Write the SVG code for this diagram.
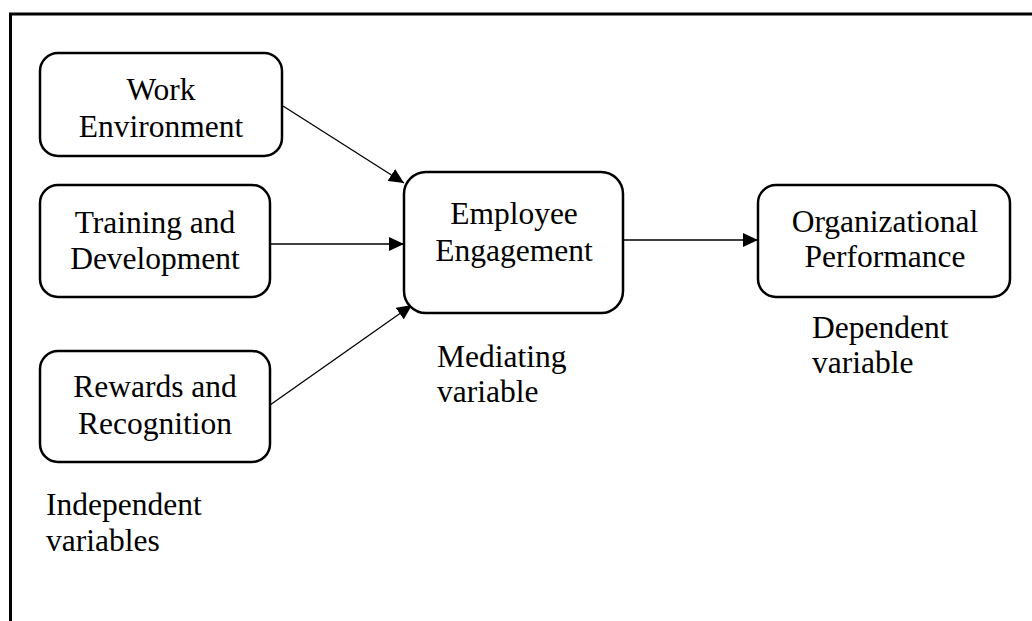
<svg xmlns="http://www.w3.org/2000/svg" width="1032" height="621" viewBox="0 0 1032 621">
<style>
.box{fill:#fff;stroke:#000;stroke-width:2.5}
.t{font-family:"Liberation Serif","Times New Roman",serif;font-size:31.5px;fill:#000}
.c{text-anchor:middle}
.edge{stroke:#000;stroke-width:1.3;fill:none;marker-end:url(#arr)}
</style>
<defs>
<marker id="arr" markerUnits="userSpaceOnUse" markerWidth="16" markerHeight="14" refX="15" refY="7" orient="auto">
<path d="M0,0 L15,7 L0,14 Z" fill="#000"/>
</marker>
</defs>
<rect x="0" y="0" width="1032" height="621" fill="#fff"/>
<path d="M10.5,621 L10.5,14 L1032,14" fill="none" stroke="#000" stroke-width="3"/>
<g id="connectors">
<line class="edge" x1="283" y1="106" x2="404" y2="183"/>
<line class="edge" x1="270" y1="244" x2="404" y2="244"/>
<line class="edge" x1="270" y1="405" x2="412" y2="305"/>
<line class="edge" x1="623" y1="240" x2="758" y2="240"/>
</g>
<g id="work-environment">
<rect class="box" x="40" y="53" width="242" height="103" rx="18"/>
<text class="t c" x="161" y="100">Work</text>
<text class="t c" x="161" y="137">Environment</text>
</g>
<g id="training-development">
<rect class="box" x="40" y="185" width="230" height="112" rx="18"/>
<text class="t c" x="155" y="233">Training and</text>
<text class="t c" x="155" y="269">Development</text>
</g>
<g id="rewards-recognition">
<rect class="box" x="40" y="351" width="230" height="111" rx="18"/>
<text class="t c" x="155" y="397">Rewards and</text>
<text class="t c" x="155" y="434">Recognition</text>
</g>
<g id="employee-engagement">
<rect class="box" x="404" y="172" width="219" height="141" rx="22"/>
<text class="t c" x="514" y="224">Employee</text>
<text class="t c" x="514" y="261">Engagement</text>
</g>
<g id="organizational-performance">
<rect class="box" x="758" y="185" width="252" height="112" rx="18"/>
<text class="t c" x="885" y="232">Organizational</text>
<text class="t c" x="885" y="267">Performance</text>
</g>
<g id="labels">
<text class="t" x="46" y="515">Independent</text>
<text class="t" x="46" y="551">variables</text>
<text class="t" x="437" y="367">Mediating</text>
<text class="t" x="437" y="402">variable</text>
<text class="t" x="812" y="338">Dependent</text>
<text class="t" x="812" y="373">variable</text>
</g>
</svg>
